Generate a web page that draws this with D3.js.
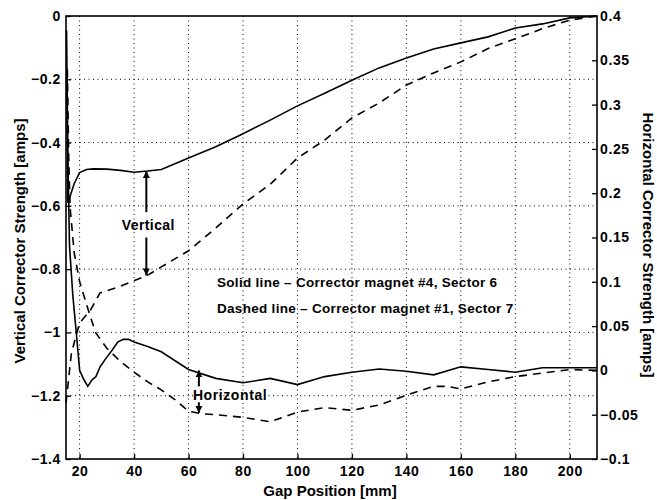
<!DOCTYPE html>
<html><head><meta charset="utf-8">
<script src="https://cdn.jsdelivr.net/npm/d3@7"></script>
<style>
body{margin:0;background:#fff}
text{font-family:"Liberation Sans",Arial,Helvetica,sans-serif;font-weight:bold;fill:#000}
</style>
</head><body><svg id="c" width="657" height="500"></svg>
<script>
// ---- data ----
const xTicks = [20,40,60,80,100,120,140,160,180,200];
const leftTicks = [0,-0.2,-0.4,-0.6,-0.8,-1,-1.2,-1.4];
const rightTicks = [0.4,0.35,0.3,0.25,0.2,0.15,0.1,0.05,0,-0.05,-0.1];

// Solid line, vertical corrector (left axis)
const solidVertX = [15.3,15.7,16.5,18,20,22.5,25,30,35,40,45,50,60,70,80,90,100,110,120,130,140,150,160,170,180,190,200,210];
const solidVertY = [-0.17,-0.59,-0.57,-0.53,-0.495,-0.485,-0.483,-0.484,-0.488,-0.494,-0.49,-0.485,-0.449,-0.413,-0.372,-0.329,-0.284,-0.244,-0.203,-0.164,-0.133,-0.104,-0.085,-0.066,-0.038,-0.025,-0.006,0];

// Dashed line, vertical corrector (left axis)
const dashVertX = [15,17,20,24,27.5,34,45,50,60,70,80,90,100,110,120,130,140,150,160,170,180,190,200,210];
const dashVertY = [-1.223,-1.065,-0.97,-0.929,-0.875,-0.857,-0.819,-0.793,-0.742,-0.67,-0.594,-0.532,-0.449,-0.392,-0.322,-0.275,-0.218,-0.18,-0.145,-0.103,-0.072,-0.04,-0.013,0];

// Solid line, horizontal corrector (right axis)
const solidHorX = [15.2,15.7,16.3,17.5,19,20,21.5,23,24.5,26,27.5,30,32,34,36,38,40,45,50,60,70,80,90,100,110,120,130,140,150,160,170,180,190,200,210];
const solidHorY = [0.384,0.237,0.14,0.085,0.035,0.0,-0.01,-0.018,-0.011,-0.007,0.004,0.015,0.023,0.032,0.035,0.035,0.032,0.027,0.021,0.001,-0.009,-0.014,-0.009,-0.016,-0.007,-0.002,0.0015,-0.001,-0.005,0.004,0.001,-0.002,0.003,0.003,0.003];

// Dashed line, horizontal corrector (right axis)
const dashHorX = [15.5,16,16.5,18,20,22,24,26,30,35,40,45,50,55,60,65,70,80,90,100,110,120,130,140,150,155,160,170,180,190,200,210];
const dashHorY = [0.34,0.24,0.184,0.133,0.1,0.08,0.06,0.042,0.025,0.01,-0.002,-0.013,-0.022,-0.033,-0.046,-0.049,-0.05,-0.053,-0.058,-0.047,-0.042,-0.045,-0.039,-0.028,-0.018,-0.018,-0.021,-0.013,-0.007,-0.003,0.001,0];

// ---- layout ----
const L = 66, R = 597, T = 16, B = 459;
const svg = d3.select("#c");
const x = d3.scaleLinear().domain([15,210]).range([L,R]);
const yL = d3.scaleLinear().domain([-1.4,0]).range([B,T]);
const yR = d3.scaleLinear().domain([-0.1,0.4]).range([B,T]);

const fmt = v => (v < 0 ? "\u2212" : "") + String(Math.abs(+v.toFixed(2)));

// grid
const grid = svg.append("g").attr("stroke","#000").attr("stroke-width",1).attr("stroke-dasharray","1,3.5");
grid.selectAll("line.v").data(xTicks).join("line")
  .attr("x1",d=>x(d)).attr("x2",d=>x(d)).attr("y1",T).attr("y2",B);
grid.selectAll("line.h").data(leftTicks.filter(d=>d<0 && d>-1.4)).join("line")
  .attr("x1",L).attr("x2",R).attr("y1",d=>yL(d)).attr("y2",d=>yL(d));

// axes
const ax = svg.append("g").attr("transform",`translate(0,${B})`)
  .call(d3.axisBottom(x).tickValues(xTicks).tickSize(-5).tickPadding(7).tickFormat(d=>d));
const ay = svg.append("g").attr("transform",`translate(${L},0)`)
  .call(d3.axisLeft(yL).tickValues(leftTicks).tickSize(-5).tickPadding(5).tickFormat(fmt));
const ar = svg.append("g").attr("transform",`translate(${R},0)`)
  .call(d3.axisRight(yR).tickValues(rightTicks).tickSize(-5).tickPadding(3).tickFormat(fmt));
[ax,ay,ar].forEach(g=>{
  g.select(".domain").remove();
  g.selectAll(".tick line").attr("stroke","#000").attr("stroke-width",1.3);
  g.selectAll(".tick text").style("font-size","14px").style("font-weight","bold")
   .style("letter-spacing","0.6px")
   .style("font-family",'"Liberation Sans",Arial,sans-serif').attr("fill","#000");
});

// frame
svg.append("rect").attr("x",L).attr("y",T).attr("width",R-L).attr("height",B-T)
  .attr("fill","none").attr("stroke","#000").attr("stroke-width",1.6);

// lines
const lineL = d3.line().x(d=>x(d[0])).y(d=>yL(d[1]));
const lineR = d3.line().x(d=>x(d[0])).y(d=>yR(d[1]));
const zip = (a,b)=>a.map((v,i)=>[v,b[i]]);
svg.append("path").attr("d",lineL(zip(solidVertX,solidVertY))).attr("fill","none").attr("stroke","#000").attr("stroke-width",1.6);
svg.append("path").attr("d",lineL(zip(dashVertX,dashVertY))).attr("fill","none").attr("stroke","#000").attr("stroke-width",1.6).attr("stroke-dasharray","8,6");
svg.append("path").attr("d",lineR(zip(solidHorX,solidHorY))).attr("fill","none").attr("stroke","#000").attr("stroke-width",1.6);
svg.append("path").attr("d",lineR(zip(dashHorX,dashHorY))).attr("fill","none").attr("stroke","#000").attr("stroke-width",1.6).attr("stroke-dasharray","8,6");

// arrow marker
svg.append("defs").append("marker").attr("id","ah").attr("viewBox","0 0 10 10")
  .attr("refX",10).attr("refY",5).attr("markerWidth",7).attr("markerHeight",9)
  .attr("markerUnits","userSpaceOnUse").attr("orient","auto")
  .append("path").attr("d","M0,0 L10,5 L0,10 Z").attr("fill","#000");
const arrow = (x0,y0,x1,y1)=>svg.append("line").attr("x1",x0).attr("y1",y0).attr("x2",x1).attr("y2",y1)
  .attr("stroke","#000").attr("stroke-width",2).attr("marker-end","url(#ah)");

// "Vertical" annotation
const vAx = 44.5;
arrow(x(vAx), yL(-0.62), x(vAx), yL(-0.49));
arrow(x(vAx), yL(-0.70), x(vAx), yL(-0.82));
svg.append("text").attr("x",x(vAx)+2).attr("y",yL(-0.66)+5).attr("text-anchor","middle")
  .style("font-size","14px").style("letter-spacing","0.4px").text("Vertical");

// "Horizontal" annotation
const hAx = 63.8;
arrow(x(hAx), yR(-0.018), x(hAx), yR(0.0));
arrow(x(hAx), yR(-0.036), x(hAx), yR(-0.048));
svg.append("text").attr("x",x(hAx)-6).attr("y",yR(-0.033)).style("font-size","14px")
  .style("letter-spacing","0.6px").text("Horizontal");

// legend text
svg.append("text").attr("x",217).attr("y",287).style("font-size","13.5px").style("letter-spacing","0.3px").text("Solid line \u2013 Corrector magnet #4, Sector 6");
svg.append("text").attr("x",217).attr("y",313).style("font-size","13.5px").style("letter-spacing","0.3px").text("Dashed line \u2013 Corrector magnet #1, Sector 7");

// axis labels
svg.append("text").attr("x",330).attr("y",496).attr("text-anchor","middle").style("font-size","15px").text("Gap Position [mm]");
svg.append("text").attr("transform","translate(25,241) rotate(-90)").attr("text-anchor","middle").style("font-size","15px").text("Vertical Corrector Strength [amps]");
svg.append("text").attr("transform","translate(643,245) rotate(90)").attr("text-anchor","middle").style("font-size","15px").text("Horizontal Corrector Strength [amps]");
</script>
</body></html>
